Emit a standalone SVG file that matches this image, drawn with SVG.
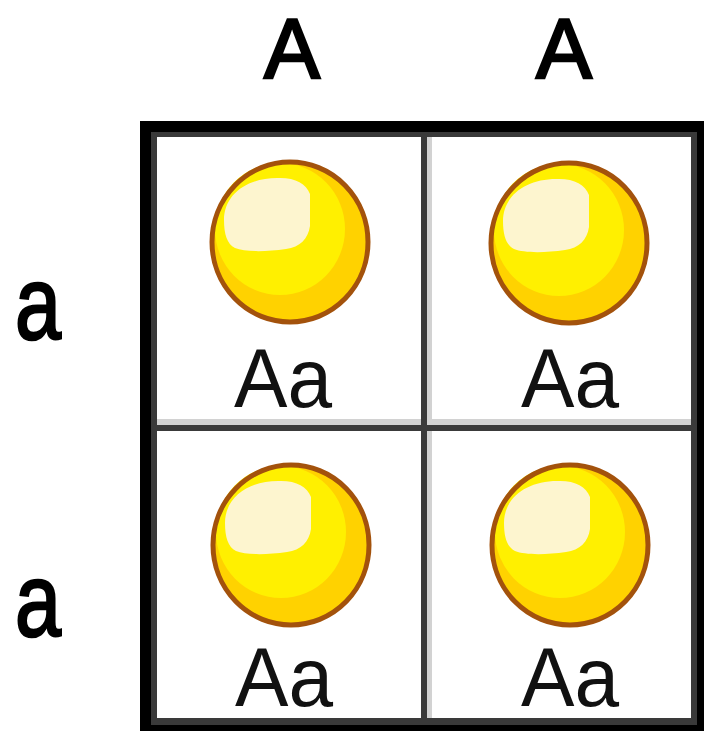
<svg xmlns="http://www.w3.org/2000/svg" width="704" height="731" viewBox="0 0 704 731">
  <style>
    .hdr { font-family: "Liberation Sans", Arial, sans-serif; fill: #000; stroke: #000; stroke-width: 2.5px; }
    .geno { font-family: "Liberation Sans", Arial, sans-serif; font-size: 84px; fill: #111; }
    .cell { fill: #fff; }
  </style>
  <defs>
    <!-- seed: golden body, bright yellow upper layer, cream highlight -->
    <g id="seed">
      <ellipse cx="0" cy="0" rx="78" ry="80" fill="#ffd200"/>
      <ellipse cx="-10" cy="-13" rx="65" ry="66" fill="#fff000"/>
      <path d="M -10,-64 C 6,-64 16,-58 20,-48 L 20,-16 C 18,-3 10,5 -4,7 C -25,10 -45,10 -55,6 C -63,2 -66,-8 -66,-22 C -66,-48 -42,-65 -10,-64 Z" fill="#fdf5cf"/>
      <ellipse cx="0" cy="0" rx="78" ry="80" fill="none" stroke="#a3520c" stroke-width="5"/>
    </g>
  </defs>

  <rect width="704" height="731" fill="#fff"/>

  <!-- grid frame -->
  <g id="grid">
    <rect x="140" y="121" width="564" height="610" fill="#000"/>
    <rect x="151" y="132" width="546" height="593" fill="#3a3a3a"/>
    <rect class="cell" x="157" y="137" width="264" height="288"/>
    <rect class="cell" x="427" y="137" width="264" height="288"/>
    <rect class="cell" x="157" y="431" width="264" height="287"/>
    <rect class="cell" x="427" y="431" width="264" height="287"/>
    <rect x="157" y="419" width="264" height="6" fill="#d2d2d2"/>
    <rect x="427" y="419" width="264" height="6" fill="#d2d2d2"/>
    <rect x="427" y="137" width="5" height="282" fill="#d2d2d2"/>
    <rect x="427" y="431" width="5" height="287" fill="#d2d2d2"/>
  </g>

  <!-- allele headers -->
  <g id="col-A1"><text class="hdr" x="292" y="78" font-size="86" text-anchor="middle" textLength="56" lengthAdjust="spacingAndGlyphs">A</text></g>
  <g id="col-A2"><text class="hdr" x="564" y="78" font-size="86" text-anchor="middle" textLength="56" lengthAdjust="spacingAndGlyphs">A</text></g>
  <g id="row-a1"><text class="hdr" x="38" y="339" font-size="104" text-anchor="middle" textLength="46" lengthAdjust="spacingAndGlyphs">a</text></g>
  <g id="row-a2"><text class="hdr" x="38" y="636" font-size="104" text-anchor="middle" textLength="46" lengthAdjust="spacingAndGlyphs">a</text></g>

  <!-- offspring cells -->
  <g id="cell-1-1">
    <use href="#seed" transform="translate(290,242)"/>
    <text class="geno" x="283" y="407" text-anchor="middle" textLength="98" lengthAdjust="spacingAndGlyphs">Aa</text>
  </g>
  <g id="cell-1-2">
    <use href="#seed" transform="translate(569,243)"/>
    <text class="geno" x="570" y="407" text-anchor="middle" textLength="98" lengthAdjust="spacingAndGlyphs">Aa</text>
  </g>
  <g id="cell-2-1">
    <use href="#seed" transform="translate(291,545)"/>
    <text class="geno" x="284" y="706" text-anchor="middle" textLength="98" lengthAdjust="spacingAndGlyphs">Aa</text>
  </g>
  <g id="cell-2-2">
    <use href="#seed" transform="translate(570,545)"/>
    <text class="geno" x="570" y="706" text-anchor="middle" textLength="98" lengthAdjust="spacingAndGlyphs">Aa</text>
  </g>

  <!-- no connectors in this chart -->
  <g id="connectors"/>
</svg>
